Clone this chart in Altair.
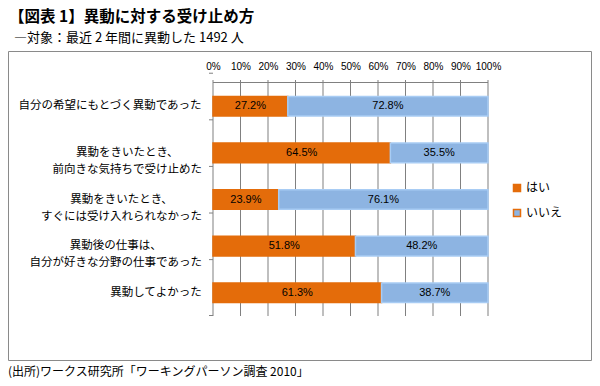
import altair as alt
import pandas as pd

title_text = "【図表 1】異動に対する受け止め方"
subtitle_text = "―対象：最近 2 年間に異動した 1492 人"
source_text = "(出所)ワークス研究所「ワーキングパーソン調査 2010」"

categories = [
    "自分の希望にもとづく異動であった",
    "異動をきいたとき、\n前向きな気持ちで受け止めた",
    "異動をきいたとき、\nすぐには受け入れられなかった",
    "異動後の仕事は、\n自分が好きな分野の仕事であった",
    "異動してよかった",
]
answers = ["はい", "いいえ"]
yes_values = [27.2, 64.5, 23.9, 51.8, 61.3]
no_values = [72.8, 35.5, 76.1, 48.2, 38.7]
x_ticks = [0, 10, 20, 30, 40, 50, 60, 70, 80, 90, 100]

ORANGE = "#E46C0A"
BLUE = "#8DB4E2"
BLUE_EDGE = "#A8CCF4"
GRID = "#808080"
JP = "Noto Sans CJK JP"
LAT = "Liberation Sans"
LABEL_FS = 11.5

rows = []
for c, yv, nv in zip(categories, yes_values, no_values):
    rows.append({"category": c, "answer": answers[0], "value": yv, "order": 0})
    rows.append({"category": c, "answer": answers[1], "value": nv, "order": 1})
df = pd.DataFrame(rows)

label_df = pd.DataFrame({
    "category": categories,
    "nchar": [max(len(s) for s in c.split("\n")) for c in categories],
})
tick_df = pd.DataFrame({"t": x_ticks})
cat_df = pd.DataFrame({"category": categories})
one = pd.DataFrame({"k": [0]})

W, H = 275, 233

ysc = alt.Scale(domain=categories, paddingInner=0.58, paddingOuter=0.29)
xsc = alt.Scale(domain=[0, 100], nice=False, zero=False)

x_axis = alt.Axis(orient="top", values=x_ticks, labelExpr="datum.value + '%'",
                  title=None, grid=False, domain=False, ticks=False,
                  labelOverlap=False, labelFlush=False, labelFont=LAT, labelFontSize=10,
                  labelColor="black", labelPadding=12)
y_axis = alt.Axis(labels=False, title=None, ticks=False, domain=False, grid=False)

# vertical grid lines (with the small ticks above the top edge), as 1px filled rects
grid = alt.Chart(tick_df).mark_rect(color=GRID, xOffset=-0.5, x2Offset=0.5).encode(
    x=alt.X("t:Q", scale=xsc, axis=x_axis),
    x2=alt.X2("t"),
    y=alt.value(-3),
    y2=alt.value(H),
)
top_line = alt.Chart(one).mark_rect(color=GRID).encode(
    x=alt.value(0), x2=alt.value(W), y=alt.value(-1), y2=alt.value(0),
)
y_ticks = alt.Chart(cat_df).mark_bar(size=1, color=GRID, orient="horizontal").encode(
    y=alt.Y("category:N", sort=categories, scale=ysc, axis=y_axis),
    yOffset=alt.value(-H / 10),
    x=alt.value(-4),
    x2=alt.value(0),
)
bottom_tick = alt.Chart(one).mark_rect(color=GRID).encode(
    x=alt.value(-4), x2=alt.value(0), y=alt.value(H - 1), y2=alt.value(H),
)

bars = alt.Chart(df).mark_bar(strokeWidth=1.5).encode(
    y=alt.Y("category:N", sort=categories, scale=ysc, axis=y_axis),
    x=alt.X("value:Q", stack="zero", scale=xsc, axis=x_axis),
    color=alt.Color("answer:N", sort=answers,
                    scale=alt.Scale(domain=answers, range=[ORANGE, BLUE]),
                    legend=alt.Legend(title=None, orient="none", legendX=298, legendY=99,
                                      symbolType="square", symbolSize=49,
                                      labelFont=JP, labelFontSize=12, labelColor="black",
                                      rowPadding=11, padding=0, labelOffset=3)),
    order=alt.Order("order:Q"),
    stroke=alt.condition("datum.answer == 'いいえ'", alt.value(BLUE_EDGE), alt.value(ORANGE)),
)

seg_labels = alt.Chart(df).transform_stack(
    stack="value", groupby=["category"], as_=["x0", "x1"],
    sort=[alt.SortField("order", order="ascending")]
).transform_calculate(
    mid="(datum.x0 + datum.x1) / 2",
    lbl="format(datum.value, '.1f') + '%'",
).mark_text(font=LAT, fontSize=11, color="black", baseline="middle").encode(
    x=alt.X("mid:Q", scale=xsc, axis=x_axis),
    y=alt.Y("category:N", sort=categories, scale=ysc, axis=y_axis),
    text="lbl:N",
)

y_labels = alt.Chart(label_df).transform_calculate(
    lx=f"(-11 - datum.nchar * {LABEL_FS} / 2) * 100 / width"
).mark_text(font=JP, fontSize=LABEL_FS, color="black", align="center",
            baseline="middle", lineBreak="\n", lineHeight=17).encode(
    x=alt.X("lx:Q", scale=xsc, axis=x_axis),
    y=alt.Y("category:N", sort=categories, scale=ysc, axis=y_axis),
    text="category:N",
)

box = alt.Chart(one).mark_rect(
    filled=False, stroke="#8a8a8a", strokeWidth=1
).encode(
    x=alt.value(-204.5), x2=alt.value(378.5), y=alt.value(-31.5), y2=alt.value(277.5)
)

title = alt.Chart(pd.DataFrame({"t": [title_text]})).mark_text(
    font=JP, fontSize=15.5, fontWeight="bold", align="left", baseline="middle", color="black"
).encode(x=alt.value(-204), y=alt.value(-66), text="t:N")

subtitle = alt.Chart(pd.DataFrame({"t": [subtitle_text]})).mark_text(
    font=JP, fontSize=13, align="left", baseline="middle", color="black"
).encode(x=alt.value(-199), y=alt.value(-45), text="t:N")

source = alt.Chart(pd.DataFrame({"t": [source_text]})).mark_text(
    font=JP, fontSize=12, align="left", baseline="middle", color="black"
).encode(x=alt.value(-205), y=alt.value(289), text="t:N")

chart = alt.layer(box, grid, top_line, y_ticks, bottom_tick, bars, seg_labels, y_labels,
                  title, subtitle, source).properties(
    width=W, height=H,
    autosize=alt.AutoSizeParams(type="none"),
    padding={"left": 205, "top": 75, "right": 104, "bottom": 62},
).configure_view(stroke=None)

chart.save("out.html", embed_options={"renderer": "svg", "actions": False})
